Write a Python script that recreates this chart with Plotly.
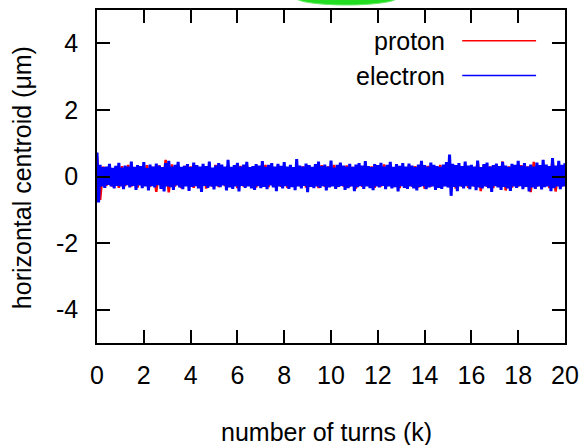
import numpy as np
import plotly.graph_objects as go

# turns in thousands
x_start, x_end = 0, 20

electron = [
 0.72, -0.78, 0.35, -0.3, 0.28, -0.34, 0.3, -0.25, 0.38, -0.3, 0.26, -0.36, 0.32, -0.28, 0.41, -0.3, 0.27, -0.38, 0.33, -0.26,
 0.3, -0.33, 0.45, -0.28, 0.29, -0.4, 0.34, -0.27, 0.31, -0.35, 0.43, -0.3, 0.25, -0.42, 0.36, -0.29, 0.3, -0.33, 0.39, -0.26,
 0.33, -0.37, 0.28, -0.45, 0.4, -0.3, 0.47, -0.32, 0.3, -0.4, 0.35, -0.27, 0.44, -0.33, 0.29, -0.38, 0.32, -0.3, 0.37, -0.43,
 0.28, -0.31, 0.42, -0.29, 0.34, -0.36, 0.3, -0.46, 0.38, -0.28, 0.31, -0.34, 0.45, -0.3, 0.27, -0.39, 0.33, -0.29, 0.4, -0.32,
 0.36, -0.27, 0.3, -0.42, 0.5, -0.33, 0.29, -0.37, 0.34, -0.3, 0.41, -0.45, 0.3, -0.28, 0.36, -0.34, 0.44, -0.3, 0.28, -0.36,
 0.31, -0.4, 0.37, -0.29, 0.33, -0.35, 0.46, -0.31, 0.29, -0.38, 0.35, -0.27, 0.4, -0.33, 0.3, -0.44, 0.38, -0.3, 0.32, -0.36,
 0.43, -0.29, 0.3, -0.37, 0.35, -0.32, 0.28, -0.41, 0.52, -0.3, 0.33, -0.36, 0.3, -0.28, 0.39, -0.47, 0.34, -0.31, 0.29, -0.35,
 0.37, -0.3, 0.45, -0.34, 0.31, -0.29, 0.36, -0.42, 0.3, -0.33, 0.48, -0.3, 0.27, -0.37, 0.35, -0.31, 0.42, -0.28, 0.33, -0.4,
 0.3, -0.35, 0.38, -0.3, 0.29, -0.44, 0.36, -0.32, 0.4, -0.29, 0.33, -0.37, 0.46, -0.3, 0.31, -0.35, 0.28, -0.41, 0.37, -0.3,
 0.34, -0.33, 0.41, -0.28, 0.3, -0.38, 0.35, -0.3, 0.44, -0.36, 0.29, -0.32, 0.37, -0.45, 0.32, -0.29, 0.4, -0.34, 0.3, -0.37,
 0.39, -0.3, 0.33, -0.36, 0.28, -0.42, 0.36, -0.31, 0.47, -0.29, 0.34, -0.38, 0.3, -0.33, 0.42, -0.3, 0.35, -0.4, 0.31, -0.34,
 0.29, -0.37, 0.36, -0.3, 0.43, -0.33, 0.66, -0.58, 0.38, -0.31, 0.34, -0.44, 0.4, -0.3, 0.31, -0.36, 0.45, -0.29, 0.33, -0.38,
 0.35, -0.3, 0.3, -0.41, 0.48, -0.33, 0.28, -0.36, 0.37, -0.3, 0.42, -0.35, 0.3, -0.46, 0.34, -0.29, 0.39, -0.33, 0.31, -0.4,
 0.44, -0.31, 0.33, -0.36, 0.29, -0.43, 0.38, -0.3, 0.35, -0.34, 0.47, -0.29, 0.32, -0.38, 0.4, -0.31, 0.3, -0.45, 0.36, -0.33,
 0.3, -0.37, 0.42, -0.3, 0.34, -0.39, 0.5, -0.32, 0.36, -0.3, 0.31, -0.44, 0.55, -0.35, 0.33, -0.3, 0.47, -0.38, 0.35, -0.3,
 0.4,
]

proton = [
 0.6, -0.7, 0.3, -0.28, 0.33, -0.3, 0.27, -0.34, 0.31, -0.29, 0.35, -0.3, 0.28, -0.33, 0.3, -0.27, 0.34, -0.31, 0.29, -0.46,
 0.33, -0.3, 0.5, -0.48, 0.36, -0.3, 0.29, -0.35, 0.32, -0.28, 0.3, -0.34, 0.33, -0.29, 0.31, -0.36, 0.28, -0.3, 0.35, -0.32,
 0.3, -0.29, 0.34, -0.31, 0.28, -0.35, 0.32, -0.3, 0.36, -0.28, 0.31, -0.33, 0.29, -0.3, 0.35, -0.32, 0.3, -0.28, 0.33, -0.31,
 0.29, -0.34, 0.31, -0.3, 0.36, -0.29, 0.3, -0.33, 0.32, -0.3, 0.28, -0.35, 0.34, -0.31, 0.3, -0.29, 0.35, -0.32, 0.31, -0.3,
 0.33, -0.3, 0.29, -0.36, 0.32, -0.31, 0.35, -0.28, 0.3, -0.34, 0.31, -0.3, 0.36, -0.29, 0.33, -0.32, 0.3, -0.35, 0.29, -0.31,
 0.34, -0.3, 0.31, -0.33, 0.28, -0.36, 0.32, -0.3, 0.3, -0.34, 0.35, -0.29, 0.31, -0.32, 0.3, -0.36, 0.33, -0.3, 0.29, -0.34,
 0.31, -0.3, 0.46, -0.44, 0.33, -0.31, 0.3, -0.35, 0.32, -0.3, 0.45, -0.42, 0.3, -0.33, 0.31, -0.3, 0.34, -0.32, 0.3, -0.47,
 0.44, -0.3, 0.33, -0.31, 0.3, -0.35, 0.5, -0.45, 0.32, -0.3, 0.34,
]

series_names = ["proton", "electron"]
series_colors = ["#ff0000", "#0000ff"]

x_tick_vals = [0, 2, 4, 6, 8, 10, 12, 14, 16, 18, 20]
x_tick_text = ["0", "2", "4", "6", "8", "10", "12", "14", "16", "18", "20"]
y_tick_vals = [-4, -2, 0, 2, 4]
y_tick_text = ["-4", "-2", "0", "2", "4"]

x_e = np.linspace(x_start, x_end, len(electron))
x_p = np.linspace(x_start, x_end, len(proton))

FONT = "Liberation Sans, Arial, Helvetica, sans-serif"
FS = 25

fig = go.Figure()
fig.add_trace(go.Scatter(x=x_p, y=proton, mode="lines", name=series_names[0],
                         line=dict(color=series_colors[0], width=2.5, simplify=False), showlegend=False))
fig.add_trace(go.Scatter(x=x_e, y=electron, mode="lines", name=series_names[1],
                         line=dict(color=series_colors[1], width=3, simplify=False), showlegend=False))

axis_common = dict(showline=True, linecolor="black", linewidth=1.5, mirror="allticks",
                   ticks="inside", ticklen=13, tickwidth=1.5, tickcolor="black",
                   showgrid=False, zeroline=False,
                   tickfont=dict(family=FONT, size=FS, color="black"))

fig.update_xaxes(range=[x_start, x_end], tickvals=x_tick_vals, ticktext=x_tick_text,
                 ticklabelstandoff=9, **axis_common)
fig.update_yaxes(range=[-5, 5], tickvals=y_tick_vals, ticktext=y_tick_text,
                 ticklabelstandoff=12, **axis_common)

annotations = [
    dict(text="number of turns (k)", xref="paper", yref="paper", x=0.49, y=0,
         yanchor="middle", yshift=-89, showarrow=False,
         font=dict(family=FONT, size=FS, color="black")),
    dict(text="horizontal centroid (μm)", xref="paper", yref="paper", x=0, y=0.495,
         xanchor="center", yanchor="middle", xshift=-75, textangle=-90, showarrow=False,
         font=dict(family=FONT, size=FS, color="black")),
]
legend_y = [0.9075, 0.803]
shapes = []
for name, col, ly in zip(series_names, series_colors, legend_y):
    annotations.append(dict(text=name, xref="paper", yref="paper", x=0.7484, y=ly,
                            xanchor="right", yanchor="middle", showarrow=False,
                            font=dict(family=FONT, size=FS, color="black")))
    shapes.append(dict(type="line", xref="paper", yref="paper", x0=0.7804, x1=0.9382,
                       y0=ly, y1=ly, line=dict(color=col, width=1.5)))

# green highlight partially visible at the top edge
shapes.append(dict(type="circle", xref="paper", yref="paper", x0=0.424, x1=0.642,
                   y0=1.015, y1=1.06, fillcolor="#22dd22", line=dict(color="#66ee66", width=1),
                   layer="above"))

fig.update_layout(width=587, height=445, margin=dict(l=97, r=21, t=8, b=102),
                  paper_bgcolor="white", plot_bgcolor="white",
                  annotations=annotations, shapes=shapes, showlegend=False)

fig.write_html("out.html")
